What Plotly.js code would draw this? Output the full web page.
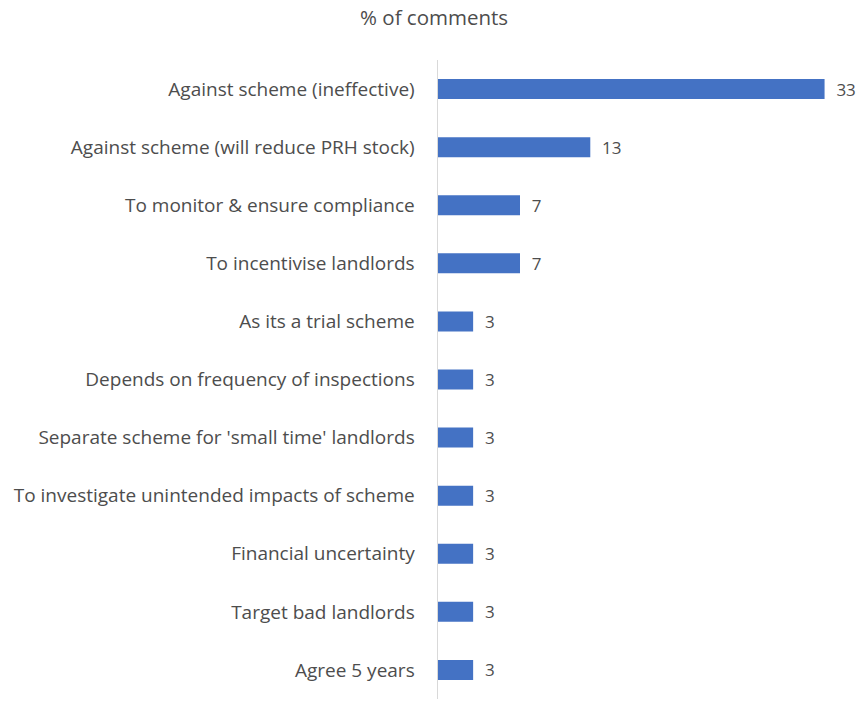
<!DOCTYPE html>
<html><head><meta charset="utf-8">
<script src="https://cdn.plot.ly/plotly-3.0.1.min.js"></script>
<style>html,body{margin:0;padding:0;background:#fff;}</style>
</head><body>
<div id="chart" style="width:863px;height:701px;"></div>
<script>
const categories = [
  "Against scheme (ineffective)",
  "Against scheme (will reduce PRH stock)",
  "To monitor & ensure compliance",
  "To incentivise landlords",
  "As its a trial scheme",
  "Depends on frequency of inspections",
  "Separate scheme for 'small time' landlords",
  "To investigate unintended impacts of scheme",
  "Financial uncertainty",
  "Target bad landlords",
  "Agree 5 years"
];
const values = [33, 13, 7, 7, 3, 3, 3, 3, 3, 3, 3];

const trace = {
  type: 'bar',
  orientation: 'h',
  y: categories,
  x: values,
  texttemplate: '  %{x}',
  textposition: 'outside',
  constraintext: 'none',
  cliponaxis: false,
  textfont: {family: 'Open Sans, sans-serif', size: 17, color: '#4d4d4d'},
  marker: {color: '#4472C4'},
  hoverinfo: 'none'
};

const layout = {
  width: 863, height: 701,
  margin: {l: 438, r: 15, t: 60, b: 2},
  paper_bgcolor: '#fff', plot_bgcolor: '#fff',
  bargap: 0.656,
  showlegend: false,
  title: {text: '% of comments', x: 0.503, xref: 'container', xanchor: 'center', y: 0.974, yref: 'container', yanchor: 'middle',
    font: {family: 'Open Sans, sans-serif', size: 20.5, color: '#4d4d4d'}},
  xaxis: {range: [0, 35], visible: false, fixedrange: true},
  yaxis: {autorange: 'reversed', showline: true, linecolor: '#d9d9d9', linewidth: 1.5, showgrid: false, zeroline: false,
    ticks: '', ticklabelstandoff: 18,
    tickfont: {family: 'Open Sans, sans-serif', size: 19, color: '#4d4d4d'}}
};
Plotly.newPlot('chart', [trace], layout, {displayModeBar: false, staticPlot: true});
</script>
</body></html>
